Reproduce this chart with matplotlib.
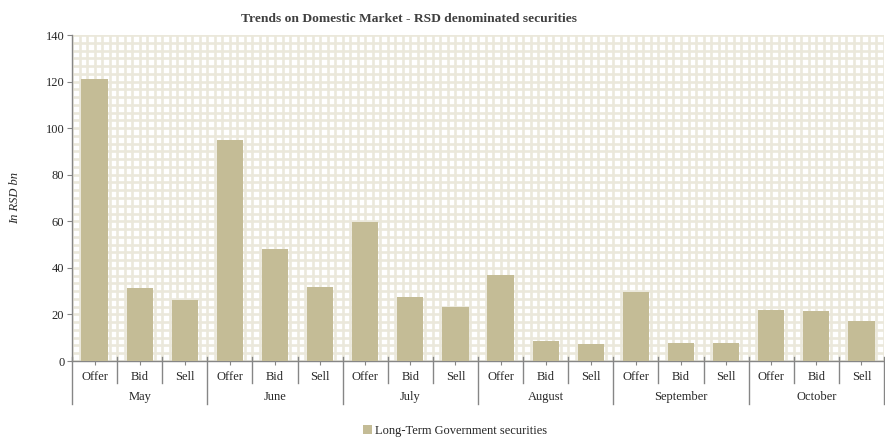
import matplotlib.pyplot as plt
from matplotlib.ticker import MultipleLocator
from matplotlib.transforms import blended_transform_factory
from matplotlib.patches import Patch

months = ['May', 'June', 'July', 'August', 'September', 'October']
kinds = ['Offer', 'Bid', 'Sell']
offer = [121.2, 94.9, 59.8, 36.8, 29.5, 21.7]
bid = [31.4, 48.0, 27.6, 8.6, 7.7, 21.4]
sell = [26.4, 31.7, 23.0, 7.2, 7.7, 17.1]
series_name = 'Long-Term Government securities'

values = []
for o, b, s in zip(offer, bid, sell):
    values += [o, b, s]
labels = kinds * len(months)
x = list(range(len(values)))

plt.rcParams['font.family'] = ['Liberation Serif', 'DejaVu Serif']
bar_color = '#C4BC96'
axis_color = '#868686'
text_color = '#262626'

fig = plt.figure(figsize=(8.85, 4.38), dpi=100)
ax = fig.add_axes([72 / 885, 1 - 361 / 438, 812 / 885, 326 / 438])

ax.bar(x, values, width=0.58, color=bar_color, zorder=3)

ax.set_xlim(-0.5, len(values) - 0.5)
ax.set_ylim(0, 140)
ax.yaxis.set_major_locator(MultipleLocator(20))
ax.yaxis.set_minor_locator(MultipleLocator(140 / 42))
ax.xaxis.set_minor_locator(MultipleLocator(1 / 6))
# pattern-like background: light grid both ways
ax.grid(True, which='both', color='#EBE8DB', linewidth=1.9)
ax.set_axisbelow(True)

for side in ['top', 'right']:
    ax.spines[side].set_visible(False)
for side in ['left', 'bottom']:
    ax.spines[side].set_color(axis_color)
    ax.spines[side].set_linewidth(1.0)

ax.set_xticks(x)
ax.set_xticklabels(labels)
ax.tick_params(axis='x', which='major', length=3, color=axis_color,
               labelsize=9, labelcolor=text_color, pad=4)
ax.tick_params(axis='y', which='major', length=3.5, color=axis_color,
               labelsize=9, labelcolor=text_color, pad=2)
ax.tick_params(which='minor', length=0)

# multi-level category axis: separators and month labels
trans = blended_transform_factory(ax.transData, ax.transAxes)
ax_h = 326
for i in range(len(values) + 1):
    xs = i - 0.5
    if i % 3 == 0:
        y_end = -(404 - 361) / ax_h
    else:
        y_end = -(383 - 361) / ax_h
    ax.plot([xs, xs], [4 / ax_h, y_end], color=axis_color, linewidth=1.0,
            transform=trans, clip_on=False, zorder=4)
for m, month in enumerate(months):
    ax.text(3 * m + 1, -(397 - 361) / ax_h, month, transform=trans,
            ha='center', va='center', fontsize=9, color=text_color)

fig.text(15 / 885, 1 - 198 / 438, 'In RSD bn', rotation=90, ha='center',
         va='center', fontsize=9, style='italic', color=text_color)

fig.text(409 / 885, 1 - 19 / 438,
         'Trends on Domestic Market - RSD denominated securities',
         ha='center', va='center', fontsize=9.7, fontweight='bold',
         color='#404040')

handle = Patch(facecolor=bar_color, edgecolor='none')
fig.legend([handle], [series_name], loc='center', frameon=False,
           bbox_to_anchor=(455 / 885, 1 - 431 / 438), fontsize=9,
           handlelength=0.7, handleheight=0.7, handletextpad=0.2,
           labelcolor=text_color)

fig.savefig('out.png', dpi=100)
